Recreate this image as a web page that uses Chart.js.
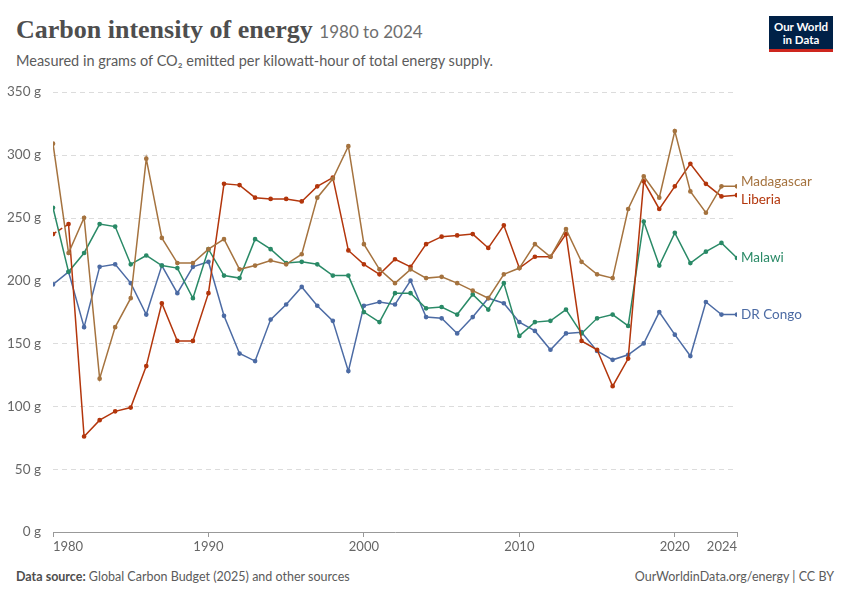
<!DOCTYPE html>
<html>
<head>
<meta charset="utf-8">
<script src="https://cdn.jsdelivr.net/npm/chart.js@4.4.1/dist/chart.umd.min.js"></script>
<style>
  body { margin: 0; width: 850px; height: 600px; background: #fff; font-family: Lato, "Noto Sans", sans-serif; position: relative; overflow: hidden; }
  #title { position: absolute; left: 16px; top: 15px; font-family: "Liberation Serif", serif; font-size: 26px; font-weight: bold; color: #4e4e4e; }
  #title span { font-family: Lato, sans-serif; font-weight: normal; font-size: 17px; color: #6e6e6e; }
  #sub { position: absolute; left: 16px; top: 52px; font-size: 14.5px; color: #5b5b5b; }
  #logo { position: absolute; left: 769px; top: 16px; width: 64px; height: 36px; background: #002147; color: #fff; font-size: 11.5px; font-weight: bold; text-align: center; line-height: 13px; padding-top: 4px; box-sizing: border-box; border-bottom: 3px solid #ce261e; }
  #wrap { position: absolute; left: 0; top: 80px; width: 850px; height: 480px; }
  #foot1 { position: absolute; left: 16px; top: 569px; font-size: 12.5px; color: #5b5b5b; }
  #foot1 b { color: #4e4e4e; }
  #foot2 { position: absolute; right: 16px; top: 569px; font-size: 12.5px; color: #5b5b5b; }
</style>
</head>
<body>
<div id="title">Carbon intensity of energy <span>1980 to 2024</span></div>
<div id="sub">Measured in grams of CO₂ emitted per kilowatt-hour of total energy supply.</div>
<div id="logo">Our World<br>in Data</div>
<div id="wrap"><canvas id="myChart" width="850" height="480"></canvas></div>
<div id="foot1"><b>Data source:</b> Global Carbon Budget (2025) and other sources</div>
<div id="foot2">OurWorldinData.org/energy | CC BY</div>
<script>
const years = [];
for (let y = 1980; y <= 2024; y++) years.push(y);

const madagascar = [309, 222, 250, 122, 163, 186, 297, 234, 214, 214, 225, 233, 209, 212, 216, 213, 221, 266, 281, 307,
  229, 209, 198, 209, 202, 203, 198, 192, 186, 205, 210, 229, 219, 241, 215, 205, 202, 257, 283, 266, 319, 271, 254, 275, 275];
const liberia = [237, 245, 76, 89, 96, 99, 132, 182, 152, 152, 190, 277, 276, 266, 265, 265, 263, 275, 282, 224,
  213, 205, 217, 211, 229, 235, 236, 237, 226, 244, 210, 219, 219, 237, 152, 145, 116, 138, 279, 257, 275, 293, 277, 267, 268];
const malawi = [258, 207, 222, 245, 243, 213, 220, 212, 210, 186, 225, 204, 202, 233, 225, 214, 215, 213, 204, 204,
  175, 167, 190, 190, 178, 179, 173, 189, 177, 198, 156, 167, 168, 177, 158, 170, 173, 164, 247, 212, 238, 214, 223, 230, 218];
const drCongo = [197, 207, 163, 211, 213, 198, 173, 212, 190, 211, 215, 172, 142, 136, 169, 181, 195, 180, 168, 128,
  180, 183, 181, 200, 171, 170, 158, 171, 186, 182, 167, 160, 145, 158, 159, 144, 137, 141, 150, 175, 157, 140, 183, 173, 173];

const xTicks = [1980, 1990, 2000, 2010, 2020, 2024];

const series = [
  { label: 'Madagascar', data: madagascar, color: '#a5733f' },
  { label: 'Liberia', data: liberia, color: '#b3360c' },
  { label: 'Malawi', data: malawi, color: '#2a8a67' },
  { label: 'DR Congo', data: drCongo, color: '#4c6ba4' }
];

// dashed horizontal grid lines
const dashedGrid = {
  id: 'dashedGrid',
  beforeDatasetsDraw(chart) {
    const ctx = chart.ctx, area = chart.chartArea, ys = chart.scales.y;
    ctx.save();
    ctx.strokeStyle = '#dcdcdc';
    ctx.lineWidth = 1;
    ctx.setLineDash([5, 4]);
    ys.ticks.forEach(t => {
      if (t.value === 0) return;
      const y = Math.round(ys.getPixelForValue(t.value)) + 0.5;
      ctx.beginPath();
      ctx.moveTo(area.left, y);
      ctx.lineTo(area.right, y);
      ctx.stroke();
    });
    ctx.restore();
  }
};

const endLabels = {
  id: 'endLabels',
  afterDatasetsDraw(chart) {
    const ctx = chart.ctx;
    const ys = chart.data.datasets.map((ds, i) => {
      const pts = chart.getDatasetMeta(i).data;
      return { i, y: pts[pts.length - 1].y, label: ds.label, color: ds.borderColor };
    }).sort((a, b) => a.y - b.y);
    for (let k = 1; k < ys.length; k++) {
      if (ys[k].y - ys[k - 1].y < 18) {
        const mid = (ys[k].y + ys[k - 1].y) / 2;
        ys[k - 1].y = mid - 9;
        ys[k].y = mid + 9;
      }
    }
    ctx.save();
    ctx.font = '13.5px Lato, sans-serif';
    ctx.textBaseline = 'middle';
    ys.forEach(l => {
      ctx.fillStyle = l.color;
      ctx.fillText(l.label, chart.chartArea.right + 4, l.y);
    });
    ctx.restore();
  }
};

const ctx = document.getElementById('myChart').getContext('2d');
new Chart(ctx, {
  type: 'line',
  data: {
    datasets: series.map(s => ({
      label: s.label,
      data: s.data.map((v, i) => ({ x: years[i], y: v })),
      borderColor: s.color,
      backgroundColor: s.color,
      borderWidth: 1.5,
      pointRadius: 1.6,
      pointHoverRadius: 1.6,
      fill: false,
      segment: s.label === 'Liberia' ? { borderDash: c => c.p0DataIndex === 0 ? [4, 3] : undefined } : undefined
    }))
  },
  options: {
    responsive: false,
    animation: false,
    layout: { padding: { top: 12, right: 113, left: 0, bottom: 0 } },
    plugins: { legend: { display: false }, tooltip: { enabled: false } },
    scales: {
      x: {
        type: 'linear',
        min: 1980, max: 2024,
        afterBuildTicks: ax => { ax.ticks = xTicks.map(v => ({ value: v })); },
        afterFit: ax => { ax.height = 28; },
        grid: { display: true, drawOnChartArea: false, drawTicks: true, tickLength: 5, color: '#999' },
        border: { color: '#999' },
        ticks: { color: '#666', font: { family: 'Lato', size: 13 }, padding: 2, align: 'inner', callback: v => String(v), maxRotation: 0 }
      },
      y: {
        min: 0, max: 350,
        afterFit: ax => { ax.width = 53; },
        grid: { display: false },
        border: { display: false },
        ticks: { stepSize: 50, color: '#666', font: { family: 'Lato', size: 13.5 }, padding: 4, callback: v => v + ' g' }
      }
    }
  },
  plugins: [dashedGrid, endLabels]
});
</script>
</body>
</html>
